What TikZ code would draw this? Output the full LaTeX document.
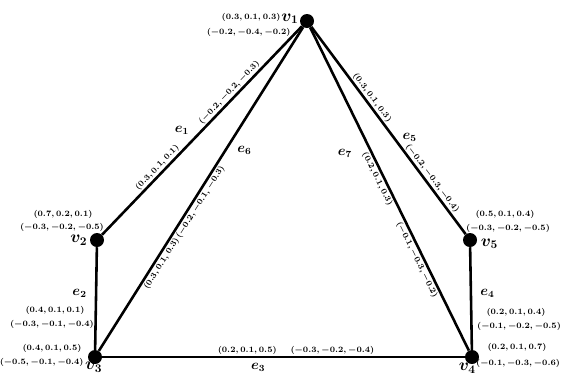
\documentclass[tikz,border=0pt]{standalone}
\usepackage{amsmath,amssymb}
\usepackage{tikz}
\usetikzlibrary{positioning,calc}

\begin{document}
\begin{tikzpicture}[x=0.03cm,y=-0.03cm,
  vtx/.style={circle,fill=black,minimum size=0.42cm,inner sep=0pt},
  edg/.style={black,line width=2.2pt},
  tup/.style={font=\scriptsize\boldmath,inner sep=1pt},
  vlab/.style={font=\Large\boldmath,inner sep=0pt},
  elab/.style={font=\large\boldmath,inner sep=1pt}]
  \useasboundingbox (0,0) rectangle (561,378);

  % vertices
  \node[vtx] (v1) at (307,21)  {};
  \node[vtx] (v2) at (97,240)  {};
  \node[vtx] (v3) at (95,357)  {};
  \node[vtx] (v4) at (472,357) {};
  \node[vtx] (v5) at (470,240) {};

  % vertex labels
  \node[vlab,left=1pt of v1,yshift=2pt] (n1) {$v_1$};
  \node[tup,anchor=east] (a1) at (282,17) {$(0.3,0.1,0.3)$};
  \node[tup,anchor=east] (b1) at (292,32) {$(-0.2,-0.4,-0.2)$};

  \node[vlab,left=2pt of v2] (n2) {$v_2$};
  \node[tup] (a2) at (63,214) {$(0.7,0.2,0.1)$};
  \node[tup] (b2) at (62,227) {$(-0.3,-0.2,-0.5)$};

  \node[vlab,anchor=west] (n3) at (85,367) {$v_3$};
  \node[tup] (a3) at (52,348) {$(0.4,0.1,0.5)$};
  \node[tup,anchor=east] (b3) at (n3.west |- 0,362) {$(-0.5,-0.1,-0.4)$};

  \node[vlab,anchor=east] (n4) at (476,368) {$v_4$};
  \node[tup] (a4) at (517,347) {$(0.2,0.1,0.7)$};
  \node[tup,anchor=west,inner sep=0pt] (b4) at (n4.east |- 0,363) {$(-0.1,-0.3,-0.6)$};

  \node[vlab,right=3pt of v5,yshift=-3pt] (n5) {$v_5$};
  \node[tup] (a5) at (505,214) {$(0.5,0.1,0.4)$};
  \node[tup] (b5) at (508,228) {$(-0.3,-0.2,-0.5)$};

  % edges
  \draw[edg] (v2) -- (v1)
    node[tup,pos=0.3,above,sloped]  {$(0.3,0.1,0.1)$}
    node[tup,pos=0.66,above,sloped] {$(-0.2,-0.2,-0.3)$}
    node[elab,pos=0.5,left=9pt]     {$e_1$};
  \draw[edg] (v2) -- (v3)
    node[elab,pos=0.45,left=6pt] {$e_2$};
  \node[tup] (a6) at (55,310) {$(0.4,0.1,0.1)$};
  \node[tup] (b6) at (52,324) {$(-0.3,-0.1,-0.4)$};
  \draw[edg] (v3) -- (v4)
    node[tup,pos=0.4,above]   {$(0.2,0.1,0.5)$}
    node[tup,pos=0.635,above] {$(-0.3,-0.2,-0.4)$}
    node[elab,pos=0.43,below=3pt] {$e_3$};
  \draw[edg] (v5) -- (v4)
    node[elab,pos=0.45,right=6pt] {$e_4$};
  \node[tup] (a7) at (516,312) {$(0.2,0.1,0.4)$};
  \node[tup] (b7) at (519,326) {$(-0.1,-0.2,-0.5)$};
  \draw[edg] (v1) -- (v5)
    node[tup,pos=0.36,above,sloped] {$(0.3,0.1,0.3)$}
    node[tup,pos=0.75,above,sloped] {$(-0.2,-0.3,-0.4)$}
    node[elab,pos=0.57,above right=1pt] {$e_5$};
  \draw[edg] (v3) -- (v1)
    node[tup,pos=0.28,below,sloped] {$(0.3,0.1,0.3)$}
    node[tup,pos=0.47,below,sloped] {$(-0.2,-0.1,-0.3)$}
    node[elab,pos=0.62,right=8pt] {$e_6$};
  \draw[edg] (v1) -- (v4)
    node[tup,pos=0.46,below,sloped] {$(0.2,0.1,0.3)$}
    node[tup,pos=0.71,below,sloped] {$(-0.1,-0.3,-0.2)$}
    node[elab,pos=0.39,left=15pt] {$e_7$};
\end{tikzpicture}
\end{document}
